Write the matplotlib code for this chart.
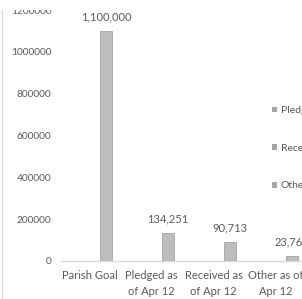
import matplotlib
matplotlib.use("Agg")
import matplotlib.pyplot as plt
from matplotlib.patches import Patch, Rectangle
from matplotlib.lines import Line2D

categories = ["Parish Goal", "Pledged as\nof Apr 12", "Received as\nof Apr 12", "Other as of\nApr 12"]
values = [1100000, 134251, 90713, 23762]
value_labels = ["1,100,000", "134,251", "90,713", "23,762"]
legend_labels = ["Pledged", "Received", "Other"]
yticks = [0, 200000, 400000, 600000, 800000, 1000000, 1200000]

W, H = 302, 299
fig = plt.figure(figsize=(W / 100, H / 100), dpi=100)
fig.patch.set_facecolor("white")
plt.rcParams["font.family"] = ["Lato", "DejaVu Sans"]
txt = "#595959"

left_px, right_px, bottom_px, top_px = 61, 320, 261, 10
cat_step = 62.0
first_cat_px = 89.5
bar_offset = 16.5 / cat_step
ax = fig.add_axes([left_px / W, (H - bottom_px) / H, (right_px - left_px) / W, (bottom_px - top_px) / H])
ax.set_facecolor("none")

x = list(range(len(categories)))
xb = [xi + bar_offset for xi in x]
ax.bar(xb, values, width=12.3 / cat_step, color="#bdbdbd", edgecolor="#a5a5a5", linewidth=0.6, zorder=3)
for xi, v, lab in zip(xb, values, value_labels):
    ax.annotate(lab, (xi, v), xytext=(0, 6), textcoords="offset points",
                ha="center", va="bottom", fontsize=8, color=txt)

x0 = -(first_cat_px - left_px) / cat_step
ax.set_xlim(x0, x0 + (right_px - left_px) / cat_step)
ax.set_ylim(0, 1200000)
ax.set_yticks(yticks)
ax.set_yticklabels([str(t) for t in yticks], fontsize=7.3, color=txt)
ax.set_xticks(x)
ax.set_xticklabels(categories, fontsize=8, color=txt, linespacing=1.5)
ax.tick_params(axis="y", length=0, pad=7)
ax.tick_params(axis="x", length=0, pad=6.5)
for s in ["top", "right", "left"]:
    ax.spines[s].set_visible(False)
ax.spines["bottom"].set_color("#d9d9d9")
ax.spines["bottom"].set_linewidth(1.0)

handles = [Patch(facecolor="#a6a6a6", edgecolor="none") for _ in legend_labels]
leg = fig.legend(handles, legend_labels, loc="upper left",
                 bbox_to_anchor=(267 / W, 1 - 101 / H), frameon=False,
                 fontsize=7.5, labelcolor=txt, handlelength=0.45, handleheight=0.45,
                 handletextpad=0.35, labelspacing=2.75, borderpad=0)

# chart border on the left and top mask
fig.add_artist(Line2D([1.5 / W, 1.5 / W], [0, 1 - 10 / H], color="#d9d9d9", linewidth=0.8))
fig.add_artist(Rectangle((0, 1 - 10 / H), 1, 10 / H, transform=fig.transFigure,
                         facecolor="white", edgecolor="none", zorder=10))

fig.savefig("out.png", dpi=100)
